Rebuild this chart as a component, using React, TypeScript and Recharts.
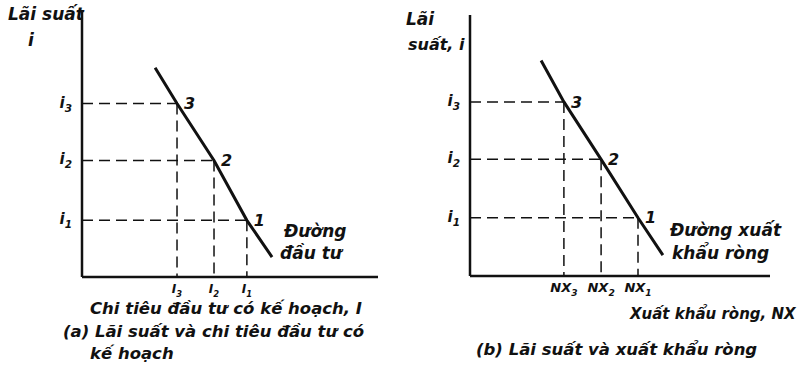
import { LineChart, Line, XAxis, YAxis, ReferenceLine, LabelList } from 'recharts'

// Panel (a): interest rate vs planned investment (arbitrary 0-100 units)
const investLevels = [32.1, 44.6, 55.7] // I3, I2, I1
const investRates = [65.2, 43.8, 21.3] // i3, i2, i1
const investStart = { x: 24.7, y: 78.7 }
const investEnd = { x: 64.2, y: 7.5 }

// Panel (b): interest rate vs net exports
const nxLevels = [31.3, 43.7, 56.0] // NX3, NX2, NX1
const nxRates = [66.7, 44.7, 22.3] // i3, i2, i1
const nxStart = { x: 23.7, y: 82.6 }
const nxEnd = { x: 64.3, y: 8.0 }

const pointNames = ['3', '2', '1']
const subscripts = ['3', '2', '1']

const FONT = "'DejaVu Sans', sans-serif"
const INK = '#111'

type Pt = { x: number; y: number }

interface PanelProps {
  left: number
  width: number
  margin: { top: number; right: number; bottom: number; left: number }
  yAxisWidth: number
  levels: number[]
  rates: number[]
  start: Pt
  end: Pt
  xBase: string
  xTickSize: number
}

function SubText({ x, y, base, sub, anchor, size }: { x: number; y: number; base: string; sub: string; anchor: 'start' | 'middle' | 'end'; size: number }) {
  return (
    <text x={x} y={y} textAnchor={anchor} fontFamily={FONT} fontStyle="italic" fontWeight="bold" fontSize={size} fill={INK}>
      <tspan>{base}</tspan>
      <tspan dy={4} fontSize={size * 0.7}>{sub}</tspan>
    </text>
  )
}

function Panel({ left, width, margin, yAxisWidth, levels, rates, start, end, xBase, xTickSize }: PanelProps) {
  const curve = [
    { x: start.x, y: start.y, name: '' },
    ...levels.map((x, i) => ({ x, y: rates[i], name: pointNames[i] })),
    { x: end.x, y: end.y, name: '' },
  ]

  return (
    <div style={{ position: 'absolute', left, top: 0 }}>
      <LineChart width={width} height={375} data={curve} margin={margin}>
        <XAxis
          dataKey="x"
          type="number"
          domain={[0, 100]}
          ticks={levels}
          interval={0}
          height={24}
          tickLine={false}
          axisLine={{ stroke: INK, strokeWidth: 2.5 }}
          tick={(p: any) => {
            const i = levels.indexOf(p.payload.value)
            return <SubText x={p.x} y={p.y + 8} base={xBase} sub={subscripts[i]} anchor="middle" size={xTickSize} />
          }}
        />
        <YAxis
          type="number"
          domain={[0, 100]}
          ticks={rates}
          interval={0}
          width={yAxisWidth}
          tickLine={false}
          axisLine={{ stroke: INK, strokeWidth: 2.5 }}
          tick={(p: any) => {
            const i = rates.indexOf(p.payload.value)
            return <SubText x={p.x - 2} y={p.y + 4} base="i" sub={subscripts[i]} anchor="end" size={15} />
          }}
        />
        {levels.map((x, i) => (
          <ReferenceLine
            key={`h${i}`}
            segment={[{ x: 0, y: rates[i] }, { x, y: rates[i] }]}
            stroke={INK}
            strokeWidth={1.5}
            strokeDasharray="11 6"
          />
        ))}
        {levels.map((x, i) => (
          <ReferenceLine
            key={`v${i}`}
            segment={[{ x, y: rates[i] }, { x, y: 0 }]}
            stroke={INK}
            strokeWidth={1.5}
            strokeDasharray="11 6"
          />
        ))}
        <Line
          type="linear"
          dataKey="y"
          stroke={INK}
          strokeWidth={3}
          dot={false}
          isAnimationActive={false}
        >
          <LabelList
            dataKey="name"
            position="right"
            offset={7}
            style={{ fontFamily: FONT, fontStyle: 'italic', fontWeight: 'bold', fontSize: 16, fill: INK }}
          />
        </Line>
      </LineChart>
    </div>
  )
}

const textStyle = {
  position: 'absolute' as const,
  fontFamily: FONT,
  fontStyle: 'italic',
  fontWeight: 'bold',
  color: INK,
  whiteSpace: 'nowrap' as const,
  lineHeight: 1,
}

function T({ x, y, size, children }: { x: number; y: number; size: number; children: string }) {
  return <div style={{ ...textStyle, left: x, top: y, fontSize: size }}>{children}</div>
}

export default function App() {
  return (
    <div style={{ position: 'absolute', left: 0, top: 0, width: 811, height: 375, background: '#fff' }}>
      <Panel
        left={0}
        width={400}
        margin={{ top: 11, right: 22, bottom: 74, left: 22 }}
        yAxisWidth={60}
        levels={investLevels}
        rates={investRates}
        start={investStart}
        end={investEnd}
        xBase="I"
        xTickSize={12}
      />
      <Panel
        left={400}
        width={411}
        margin={{ top: 15, right: 41, bottom: 75, left: 20 }}
        yAxisWidth={50}
        levels={nxLevels}
        rates={nxRates}
        start={nxStart}
        end={nxEnd}
        xBase="NX"
        xTickSize={13}
      />

      <T x={8} y={6} size={17}>Lãi suất</T>
      <T x={28} y={32} size={17}>i</T>
      <T x={284} y={223} size={17}>Đường</T>
      <T x={280} y={245} size={17}>đầu tư</T>
      <T x={90} y={301} size={16.5}>Chi tiêu đầu tư có kế hoạch, I</T>
      <T x={63} y={324} size={16.5}>(a) Lãi suất và chi tiêu đầu tư có</T>
      <T x={90} y={346} size={16.5}>kế hoạch</T>

      <T x={406} y={11} size={17}>Lãi</T>
      <T x={408} y={37} size={16}>suất, i</T>
      <T x={670} y={222} size={17}>Đường xuất</T>
      <T x={672} y={245} size={17}>khẩu ròng</T>
      <T x={630} y={307} size={15}>Xuất khẩu ròng, NX</T>
      <T x={476} y={342} size={16.5}>(b) Lãi suất và xuất khẩu ròng</T>
    </div>
  )
}
